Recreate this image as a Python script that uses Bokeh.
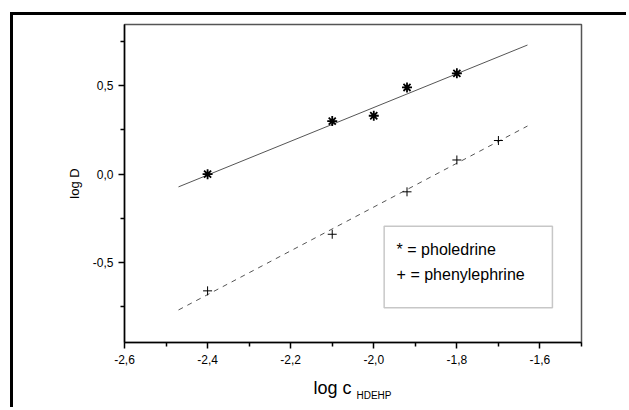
from bokeh.plotting import figure
from bokeh.models import (Range1d, FixedTicker, BoxAnnotation, Label, Title)
from bokeh.embed import file_html
from bokeh.resources import INLINE

# ---- data ----
pholedrine_x = [-2.40, -2.10, -2.00, -1.92, -1.80]
pholedrine_y = [0.00, 0.30, 0.33, 0.49, 0.57]
phenyl_x = [-2.40, -2.10, -1.92, -1.80, -1.70]
phenyl_y = [-0.66, -0.34, -0.10, 0.08, 0.19]
fit_x = [-2.47, -1.63]
pholedrine_fit_y = [-0.072, 0.730]
phenyl_fit_y = [-0.768, 0.272]

x_major = [-2.6, -2.4, -2.2, -2.0, -1.8, -1.6]
x_labels = ["-2,6", "-2,4", "-2,2", "-2,0", "-1,8", "-1,6"]
x_minor = [-2.5, -2.3, -2.1, -1.9, -1.7, -1.5]
y_major = [-0.5, 0.0, 0.5]
y_labels = ["-0,5", "0,0", "0,5"]
y_minor = [-0.75, -0.25, 0.25, 0.75]
legend_lines = ["* = pholedrine", "+ = phenylephrine"]
x_title = "log c"
x_title_sub = "HDEHP"
y_title = "log D"

FONT = "Liberation Sans"

p = figure(width=616, height=395, output_backend="svg", toolbar_location=None,
           x_range=Range1d(-2.6, -1.5), y_range=Range1d(-0.952, 0.846),
           min_border_left=111, min_border_right=48, min_border_top=9,
           min_border_bottom=68)
# thick page frame on the top and left, as in the scanned figure
p.styles = {"margin-left": "10px", "margin-top": "12px",
            "border-left": "3px solid black", "border-top": "3px solid black"}
p.grid.visible = False
p.outline_line_color = "#555555"
p.outline_line_width = 1.5
p.background_fill_color = "white"
p.border_fill_color = "white"

# axes
p.xaxis.ticker = FixedTicker(ticks=x_major, minor_ticks=x_minor)
p.xaxis.major_label_overrides = {v: s for v, s in zip(x_major, x_labels)}
p.yaxis.ticker = FixedTicker(ticks=y_major, minor_ticks=y_minor)
p.yaxis.major_label_overrides = {v: s for v, s in zip(y_major, y_labels)}
for ax in (p.xaxis[0], p.yaxis[0]):
    ax.axis_line_width = 1.5
    ax.axis_line_color = "black"
    ax.major_tick_in = 0
    ax.major_tick_out = 6
    ax.minor_tick_in = 0
    ax.minor_tick_out = 4
    ax.major_tick_line_width = 1.5
    ax.minor_tick_line_width = 1.5
    ax.major_tick_line_color = "black"
    ax.minor_tick_line_color = "black"
    ax.major_label_text_font = FONT
    ax.major_label_text_font_size = "12px"
    ax.major_label_text_color = "black"
p.xaxis.major_label_standoff = 6
p.yaxis.major_label_standoff = 5
p.yaxis.axis_label = y_title
p.yaxis.axis_label_text_font = FONT
p.yaxis.axis_label_text_font_size = "13px"
p.yaxis.axis_label_text_font_style = "normal"
p.yaxis.axis_label_text_color = "black"
p.yaxis.axis_label_standoff = 8

# x axis title with subscript, as titles below the axis
p.add_layout(Title(text=x_title, align="left", offset=189, standoff=19,
                   text_font=FONT, text_font_size="18px",
                   text_font_style="normal", text_color="black"), "below")
p.add_layout(Title(text=x_title_sub, align="left", offset=232, standoff=-36,
                   vertical_align="top",
                   text_font=FONT, text_font_size="10px",
                   text_font_style="normal", text_color="black"), "below")

# fit lines
p.line(fit_x, pholedrine_fit_y, line_color="#555555", line_width=1)
p.line(fit_x, phenyl_fit_y, line_color="#555555", line_width=1, line_dash="5 5")

# points
p.scatter(pholedrine_x, pholedrine_y, marker="asterisk", size=10,
          line_color="black", line_width=1.8)
p.scatter(phenyl_x, phenyl_y, marker="cross", size=9,
          line_color="black", line_width=1)

# legend box (text-style legend as in the figure)
p.add_layout(BoxAnnotation(left=-1.975, right=-1.570, top=-0.295, bottom=-0.755,
                           fill_alpha=0, line_color="#444444", line_width=1.5))
for i, t in enumerate(legend_lines):
    p.add_layout(Label(x=-1.945, y=-0.425 - 0.14 * i, text=t,
                       text_font=FONT, text_font_size="16px",
                       text_baseline="middle", text_color="black"))

open("out.html", "w").write(file_html(p, INLINE))
